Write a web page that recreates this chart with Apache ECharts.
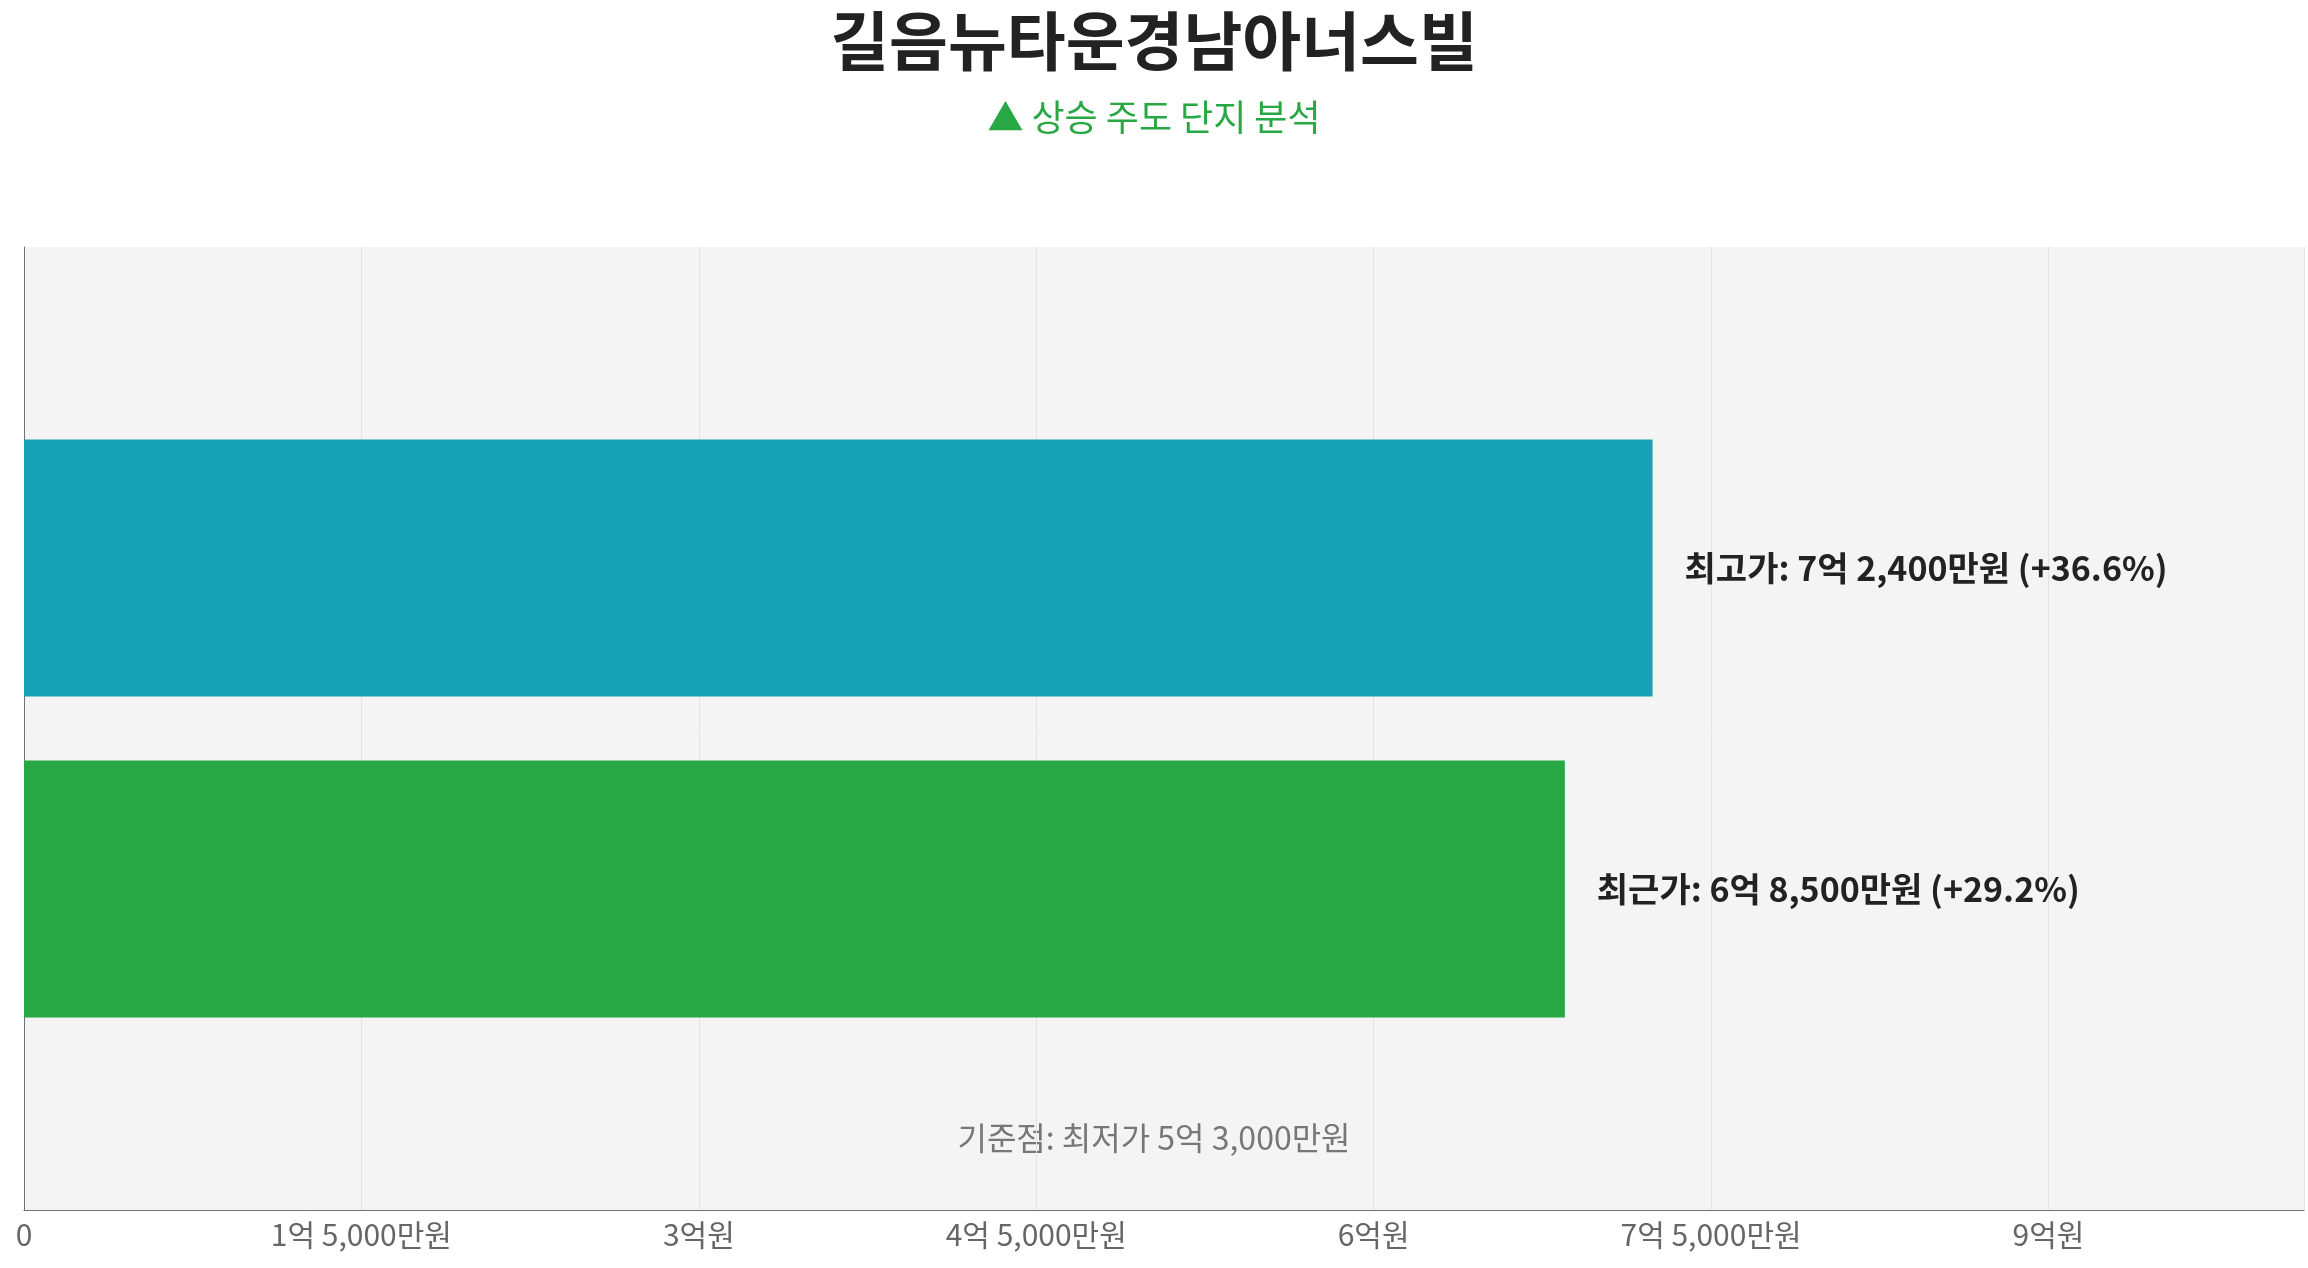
<!DOCTYPE html>
<html>
<head>
<meta charset="utf-8">
<script src="https://cdn.jsdelivr.net/npm/echarts@6/dist/echarts.min.js"></script>
<style>html,body{margin:0;padding:0;background:#fff}#chart{width:2308px;height:1268px}</style>
</head>
<body>
<div id="chart"></div>
<script>
var categories = ['', '최고가', '최근가', '기준점'];
var prices = [null, 724000000, 685000000, null];
var colors = ['#17a2b8', '#17a2b8', '#28a745', '#28a745'];
var changes = ['', '+36.6%', '+29.2%', ''];
var basePrice = 530000000;
var axisMax = 1013600000;
var tickStep = 150000000;

function fmtWon(v) {
    if (v === 0) return '0';
    var eok = Math.floor(v / 100000000);
    var man = Math.round((v % 100000000) / 10000);
    var s = '';
    if (eok > 0) s += eok + '억';
    if (man > 0) s += (s ? ' ' : '') + man.toLocaleString('en-US') + '만';
    return s + '원';
}

var font = '"Noto Sans CJK KR", "Noto Sans", sans-serif';
var chart = echarts.init(document.getElementById('chart'));
chart.setOption({
    textStyle: { fontFamily: font },
    title: {
        text: '길음뉴타운경남아너스빌',
        subtext: '▲ 상승 주도 단지 분석',
        left: 'center', top: 4, itemGap: 26,
        textStyle: { fontSize: 64, fontWeight: 'bold', color: '#222', fontFamily: font },
        subtextStyle: { fontSize: 36, color: '#28a745', fontFamily: font }
    },
    grid: { left: 24, right: 4, top: 247, bottom: 58, show: true, backgroundColor: '#f4f4f5', borderWidth: 0 },
    xAxis: {
        type: 'value', min: 0, max: axisMax, interval: tickStep,
        axisLine: { show: true, lineStyle: { color: '#6e7079' } },
        axisTick: { show: false },
        splitLine: { lineStyle: { color: '#e3e3e3' } },
        axisLabel: { fontSize: 30, color: '#666', margin: 10, showMaxLabel: false, formatter: fmtWon }
    },
    yAxis: {
        type: 'category', data: categories, inverse: true, boundaryGap: false,
        axisLine: { show: true, lineStyle: { color: '#6e7079' } },
        axisTick: { show: false }, axisLabel: { show: false }, splitLine: { show: false }
    },
    series: [{
        type: 'bar', barWidth: 257,
        data: prices.map(function (v, i) { return { value: v, itemStyle: { color: colors[i] } }; }),
        label: {
            show: true, position: 'right', distance: 32,
            fontSize: 34, fontWeight: 'bold', color: '#222',
            formatter: function (p) {
                if (p.value == null) return '';
                return p.name + ': ' + fmtWon(p.value) + ' (' + changes[p.dataIndex] + ')';
            }
        }
    }],
    graphic: [{
        type: 'text', left: 'center', top: 1122,
        style: { text: '기준점: 최저가 ' + fmtWon(basePrice), fontSize: 32, fill: '#777', fontFamily: font }
    }]
});
</script>
</body>
</html>
